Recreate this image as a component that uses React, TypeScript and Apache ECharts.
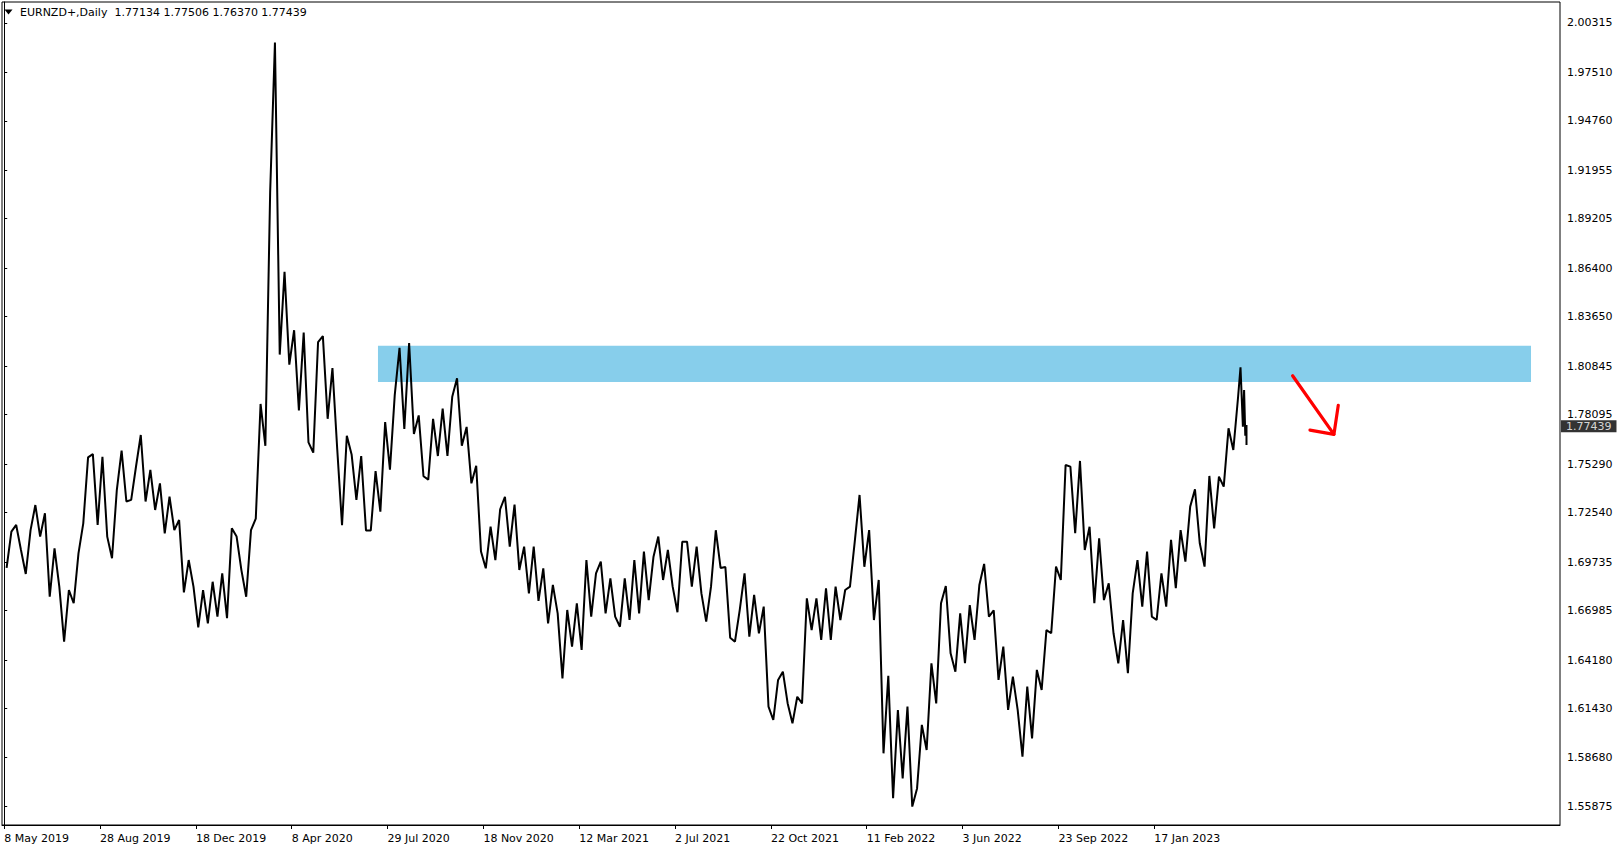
import React, { useEffect, useRef } from 'react';
import * as echarts from 'echarts';

const SYMBOL = 'EURNZD+';
const PERIOD = 'Daily';
// last bar: open, high, low, close
const LAST_BAR = [1.77134, 1.77506, 1.7637, 1.77439];
const LAST_BAR_INDEX = 1037;

const DATE_LABELS = [
  '8 May 2019', '28 Aug 2019', '18 Dec 2019', '8 Apr 2020', '29 Jul 2020', '18 Nov 2020',
  '12 Mar 2021', '2 Jul 2021', '22 Oct 2021', '11 Feb 2022', '3 Jun 2022', '23 Sep 2022', '17 Jan 2023',
];
const DATE_LABEL_BARS = [0, 80, 160, 240, 320, 400, 480, 560, 640, 720, 800, 880, 960];

const PRICE_TICKS = [
  2.00315, 1.9751, 1.9476, 1.91955, 1.89205, 1.864, 1.8365, 1.80845, 1.78095,
  1.7529, 1.7254, 1.69735, 1.66985, 1.6418, 1.6143, 1.5868, 1.55875,
];

// price envelope per block of 8 trading days
const BLOCK = 8;
const blockHighs = [
  1.7146, 1.7184, 1.7155, 1.7297, 1.725, 1.7051, 1.6815, 1.7023, 1.7567, 1.7586,
  1.7571, 1.7382, 1.7605, 1.7514, 1.7694, 1.7496, 1.742, 1.7344, 1.7212, 1.6985,
  1.6815, 1.6862, 1.691, 1.7165, 1.7118, 1.7155, 1.787, 1.9071, 1.992, 1.862,
  1.8288, 1.8275, 1.8221, 1.8255, 1.8074, 1.769, 1.7584, 1.7575, 1.7489, 1.7767,
  1.792, 1.8188, 1.8215, 1.7805, 1.7786, 1.7844, 1.7911, 1.8016, 1.774, 1.752,
  1.7174, 1.7273, 1.7344, 1.73, 1.7061, 1.7061, 1.6938, 1.6844, 1.6702, 1.674,
  1.6985, 1.691, 1.6976, 1.6881, 1.6881, 1.6985, 1.7033, 1.7004, 1.7118, 1.7042,
  1.7089, 1.7089, 1.7061, 1.6834, 1.7154, 1.6945, 1.6702, 1.691, 1.6787, 1.6721,
  1.6305, 1.6352, 1.621, 1.6768, 1.6768, 1.6825, 1.6834, 1.6815, 1.7089, 1.7354,
  1.7155, 1.6872, 1.6328, 1.6135, 1.6154, 1.605, 1.6399, 1.674, 1.6838, 1.6683,
  1.673, 1.6843, 1.6963, 1.67, 1.6494, 1.6324, 1.6267, 1.6362, 1.6588, 1.6948,
  1.7524, 1.7515, 1.7547, 1.7174, 1.7108, 1.6853, 1.6645, 1.6796, 1.6985, 1.7033,
  1.691, 1.7099, 1.7155, 1.7288, 1.7386, 1.7462, 1.7458, 1.7732, 1.7911,
];
const blockLows = [
  1.694, 1.7042, 1.6906, 1.7118, 1.6777, 1.6834, 1.6522, 1.674, 1.7193, 1.7184,
  1.7118, 1.6995, 1.7317, 1.7326, 1.7317, 1.7269, 1.7136, 1.7155, 1.6802, 1.6834,
  1.6603, 1.6626, 1.6664, 1.6655, 1.6928, 1.6777, 1.722, 1.7633, 1.815, 1.8093,
  1.7834, 1.7652, 1.7594, 1.7786, 1.7613, 1.7182, 1.7326, 1.7153, 1.7153, 1.7259,
  1.7498, 1.7729, 1.77, 1.746, 1.7441, 1.7575, 1.7575, 1.7633, 1.742, 1.7033,
  1.6938, 1.6985, 1.7061, 1.6929, 1.6796, 1.6753, 1.6626, 1.6683, 1.6314, 1.6494,
  1.6475, 1.6664, 1.6683, 1.6664, 1.6607, 1.6645, 1.6683, 1.6758, 1.6872, 1.6834,
  1.6689, 1.6834, 1.6796, 1.6636, 1.694, 1.6545, 1.6522, 1.6551, 1.6569, 1.6154,
  1.6078, 1.6172, 1.6059, 1.6172, 1.6588, 1.6532, 1.6532, 1.6645, 1.6834, 1.6947,
  1.6645, 1.5889, 1.5634, 1.5747, 1.5587, 1.569, 1.5908, 1.6172, 1.6456, 1.6352,
  1.64, 1.6532, 1.6664, 1.6305, 1.6135, 1.6135, 1.587, 1.5974, 1.6248, 1.657,
  1.6872, 1.7137, 1.7042, 1.674, 1.6758, 1.657, 1.6399, 1.6343, 1.6721, 1.6664,
  1.6645, 1.6721, 1.6825, 1.6976, 1.708, 1.6948, 1.7165, 1.7401, 1.7609,
];
// final days before the last bar: [bar, price]
const TAIL_POINTS = [
  [1032, 1.8078], [1034, 1.7741], [1035, 1.7949], [1036, 1.769],
];

// resistance zone
const ZONE_BARS = [312, 1274.5];
const ZONE_PRICES = [1.82, 1.7995];

// red arrow annotation: [bar, price]
const ARROW_SHAFT = [[1075.5, 1.803], [1110, 1.7698]];
const ARROW_HEAD = [[1090, 1.7722], [1110, 1.7698], [1113.6, 1.7862]];

const X_MIN = -1.84;
const X_MAX = 1298.7;
const FONT = 'DejaVu Sans';

function buildPath(): number[][] {
  const n = blockHighs.length;
  const mids = blockHighs.map((h, i) => (h + blockLows[i]) / 2);
  const pts: number[][] = [];
  for (let k = 0; k < n; k++) {
    const next = k < n - 1 ? mids[k + 1] : TAIL_POINTS[0][1];
    const rising = next >= mids[k];
    const a = rising ? blockLows[k] : blockHighs[k];
    const b = rising ? blockHighs[k] : blockLows[k];
    pts.push([k * BLOCK + 2, a], [k * BLOCK + 6, b]);
  }
  TAIL_POINTS.forEach((p) => pts.push([p[0], p[1]]));
  pts.push([LAST_BAR_INDEX, LAST_BAR[1]], [LAST_BAR_INDEX, LAST_BAR[2]], [LAST_BAR_INDEX, LAST_BAR[3]]);
  return pts;
}

export default function App() {
  const ref = useRef<HTMLDivElement>(null);
  useEffect(() => {
    if (!ref.current) return;
    const chart = echarts.init(ref.current, null, { renderer: 'svg' });
    const path = buildPath();
    const option: any = {
      animation: false,
      backgroundColor: '#ffffff',
      title: {
        text: `${SYMBOL},${PERIOD}  ${LAST_BAR.map((v) => v.toFixed(5)).join(' ')}`,
        left: 20,
        top: 7,
        padding: 0,
        textStyle: { fontFamily: FONT, fontSize: 11, fontWeight: 'normal', color: '#000' },
      },
      graphic: [
        { type: 'polygon', shape: { points: [[4.5, 9.5], [12.5, 9.5], [8.5, 14.5]] }, style: { fill: '#000' } },
      ],
      grid: {
        left: 2, top: 2, right: 64, bottom: 25,
        show: true, borderColor: '#000', borderWidth: 1, backgroundColor: '#fff',
      },
      xAxis: {
        type: 'value',
        min: X_MIN,
        max: X_MAX,
        axisLine: { show: true, lineStyle: { color: '#000', width: 1 } },
        axisTick: { show: true, length: 4, lineStyle: { color: '#000' }, customValues: DATE_LABEL_BARS },
        axisLabel: {
          customValues: DATE_LABEL_BARS,
          formatter: (v: number) => {
            const i = DATE_LABEL_BARS.indexOf(Math.round(v));
            return i >= 0 ? DATE_LABELS[i] : '';
          },
          align: 'left',
          margin: 8,
          color: '#000',
          fontFamily: FONT,
          fontSize: 11,
        },
        splitLine: { show: false },
      },
      yAxis: {
        type: 'value',
        position: 'right',
        min: 1.54826,
        max: 2.01494,
        axisLine: { show: true, lineStyle: { color: '#000', width: 1 } },
        axisTick: { show: true, length: 3, lineStyle: { color: '#000' }, customValues: PRICE_TICKS },
        axisLabel: {
          customValues: PRICE_TICKS,
          formatter: (v: number) => v.toFixed(5),
          margin: 7,
          padding: [3, 0, 0, 0],
          color: '#000',
          fontFamily: FONT,
          fontSize: 11,
        },
        splitLine: { show: false },
      },
      series: [
        {
          type: 'line',
          z: 1,
          data: [],
          silent: true,
          markArea: {
            silent: true,
            itemStyle: { color: '#87CEEB', opacity: 1 },
            data: [[
              { coord: [ZONE_BARS[0], ZONE_PRICES[0]] },
              { coord: [ZONE_BARS[1], ZONE_PRICES[1]] },
            ]],
          },
        },
        {
          type: 'line',
          z: 3,
          data: path,
          showSymbol: false,
          symbol: 'none',
          silent: true,
          lineStyle: { color: '#000', width: 2 },
        },
        {
          type: 'scatter',
          z: 5,
          clip: false,
          silent: true,
          symbolSize: 0,
          data: [[X_MAX, LAST_BAR[3]]],
          label: {
            show: true,
            position: 'right',
            distance: 1,
            formatter: () => LAST_BAR[3].toFixed(5),
            backgroundColor: '#000',
            color: '#fff',
            padding: [1, 5, 0, 5],
            fontFamily: FONT,
            fontSize: 11,
          },
        },
        {
          type: 'line',
          z: 4,
          data: ARROW_SHAFT,
          showSymbol: false,
          symbol: 'none',
          silent: true,
          lineStyle: { color: '#ff0000', width: 3.2, cap: 'round' },
        },
        {
          type: 'line',
          z: 4,
          data: ARROW_HEAD,
          showSymbol: false,
          symbol: 'none',
          silent: true,
          lineStyle: { color: '#ff0000', width: 3.2, cap: 'round', join: 'round' },
        },
      ],
    };
    chart.setOption(option);
    return () => chart.dispose();
  }, []);
  return (
    <div
      ref={ref}
      style={{ position: 'fixed', left: 0, top: 0, width: 1624, height: 850, background: '#fff' }}
    />
  );
}
